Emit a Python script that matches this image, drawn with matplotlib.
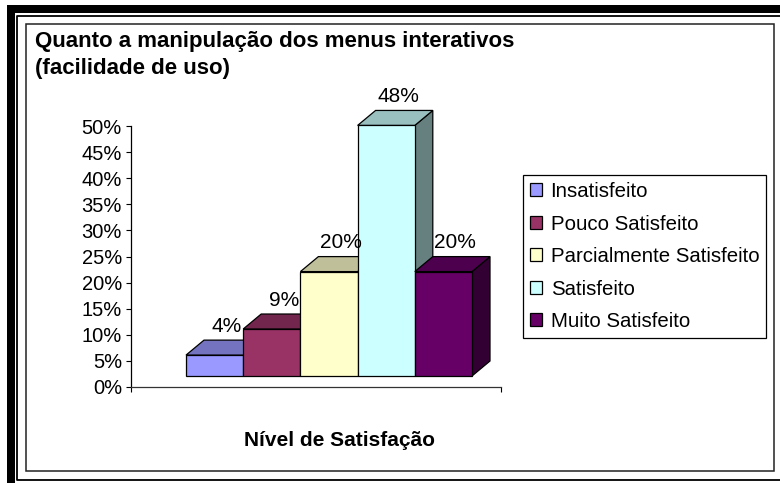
import matplotlib
matplotlib.use("Agg")
import matplotlib.pyplot as plt
from matplotlib.patches import Polygon, Rectangle, Patch
from matplotlib.lines import Line2D

plt.rcParams['font.family'] = ['Liberation Sans', 'DejaVu Sans']

title = "Quanto a manipulação dos menus interativos\n(facilidade de uso)"
xlabel = "Nível de Satisfação"
categories = ["Insatisfeito", "Pouco Satisfeito", "Parcialmente Satisfeito",
              "Satisfeito", "Muito Satisfeito"]
values = [4, 9, 20, 48, 20]
front_colors = ["#9999FF", "#993366", "#FFFFCC", "#CCFFFF", "#660066"]
top_colors = ["#7373BF", "#73264D", "#BFBF99", "#99BFBF", "#4D004D"]
side_colors = ["#4D4D80", "#4D1A33", "#808066", "#668080", "#330033"]
yticks = list(range(0, 55, 5))

W, H = 780, 483
fig = plt.figure(figsize=(W / 100, H / 100), dpi=100)

def fx(px):
    return px / W

def fy(px):
    return 1 - px / H

# page border: heavy black band, thin rule, then the chart area frame
fig.patches.append(Rectangle((fx(7), fy(13)), fx(W) - fx(7), fy(5) - fy(13),
                             transform=fig.transFigure, facecolor="black", edgecolor="none"))
fig.patches.append(Rectangle((fx(7), 0), fx(15) - fx(7), fy(5),
                             transform=fig.transFigure, facecolor="black", edgecolor="none"))
fig.lines.append(Line2D([fx(W), fx(17), fx(17), fx(W)], [fy(16), fy(16), fy(479.5), fy(479.5)],
                        transform=fig.transFigure, color="black", lw=1.3))
fig.patches.append(Rectangle((fx(26), fy(471)), fx(774) - fx(26), fy(24) - fy(471),
                             transform=fig.transFigure, facecolor="none",
                             edgecolor="#222222", lw=1.1))

# plot area: y from 0% (387 px) up to 50% (126 px)
ax_left, ax_right, ax_bottom, ax_top = 131, 501, 387, 126
ax = fig.add_axes([fx(ax_left), fy(ax_bottom), fx(ax_right - ax_left), fy(ax_top) - fy(ax_bottom)])
ax.patch.set_visible(False)

bar_px = 57.2
n = len(values)
margin = ((ax_right - ax_left) / bar_px - n) / 2
ax.set_xlim(-0.5 - margin, n - 0.5 + margin)
ax.set_ylim(0, 50)

ux = 1 / bar_px
uy = 50 / (ax_bottom - ax_top)
# oblique depth: front faces sit a little back from the axis plane
off_x, off_y = 13 * ux, 11 * uy
dep_x, dep_y = 18 * ux, 15 * uy

for i, v in enumerate(values):
    x0 = i - 0.5 + off_x
    x1 = i + 0.5 + off_x
    y0 = off_y
    y1 = v + off_y
    z = 2 + i
    kw = dict(edgecolor="black", lw=0.9, clip_on=False, zorder=z, joinstyle="miter")
    ax.add_patch(Polygon([(x1, y0), (x1 + dep_x, y0 + dep_y), (x1 + dep_x, y1 + dep_y), (x1, y1)],
                         facecolor=side_colors[i], **kw))
    ax.add_patch(Polygon([(x0, y1), (x1, y1), (x1 + dep_x, y1 + dep_y), (x0 + dep_x, y1 + dep_y)],
                         facecolor=top_colors[i], **kw))
    ax.add_patch(Rectangle((x0, y0), 1, v, facecolor=front_colors[i], **kw))
    ax.annotate(f"{v}%", xy=(i + off_x + dep_x / 2 + 0.05, y1 + dep_y), xytext=(0, 14),
                textcoords="offset pixels", ha="center", va="center",
                fontsize=15, annotation_clip=False, zorder=20)

for side in ["top", "right"]:
    ax.spines[side].set_visible(False)
ax.spines["left"].set_linewidth(0.9)
ax.spines["bottom"].set_linewidth(0.9)
ax.spines["bottom"].set_color("#333333")
ax.set_yticks(yticks)
ax.set_yticklabels([f"{t}%" for t in yticks], fontsize=14.5)
ax.set_xticks([ax.get_xlim()[0], ax.get_xlim()[1]])
ax.set_xticklabels([])
ax.tick_params(axis="both", direction="out", length=3.5, width=0.8, pad=3)

fig.text(fx(35), fy(31), title, fontsize=16, fontweight="bold",
         ha="left", va="top", linespacing=1.38)
fig.text(fx(339), fy(440), xlabel, fontsize=15, fontweight="bold",
         ha="center", va="center")

handles = [Patch(facecolor=c, edgecolor="black", lw=0.9) for c in front_colors]
leg = fig.legend(handles, categories, loc="upper left",
                 bbox_to_anchor=(fx(523), fy(175)), bbox_transform=fig.transFigure,
                 borderaxespad=0, fontsize=14.7, handlelength=0.6, handleheight=0.6,
                 handletextpad=0.4, labelspacing=0.66, borderpad=0.35,
                 fancybox=False, framealpha=1)
leg.get_frame().set_edgecolor("black")
leg.get_frame().set_linewidth(0.9)

fig.savefig("out.png", dpi=100)
